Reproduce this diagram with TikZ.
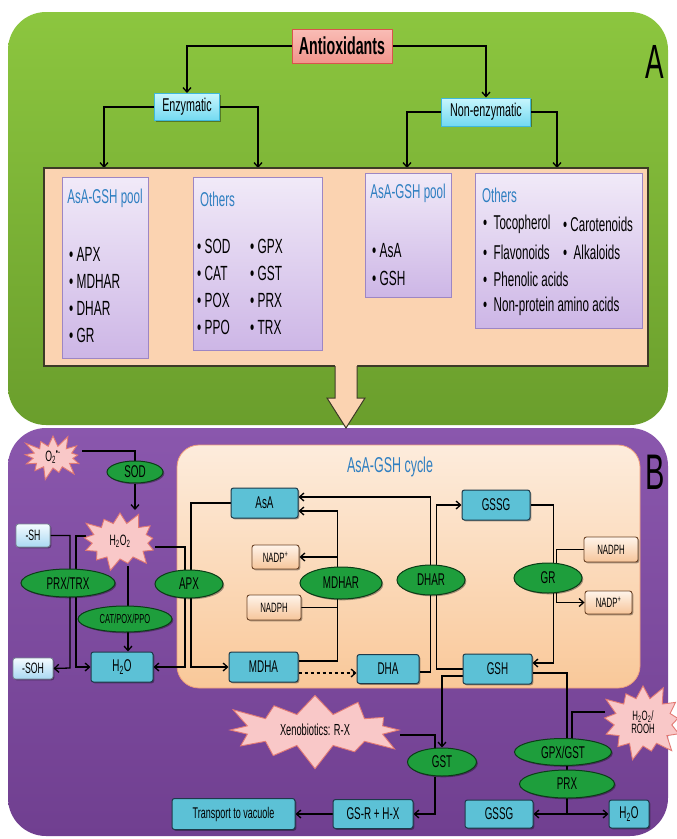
\documentclass[tikz,border=0pt]{standalone}
\usepackage{fontspec}
\setmainfont{Liberation Sans}[FakeStretch=0.58]
\usetikzlibrary{shapes.geometric,shapes.symbols,arrows.meta,shadows,calc}
\pgfdeclarelayer{back}\pgfdeclarelayer{bg}
\pgfsetlayers{back,bg,main}
\definecolor{gA1}{HTML}{8CC63F}\definecolor{gA2}{HTML}{6A9E2C}
\definecolor{pB1}{HTML}{8A57AD}\definecolor{pB2}{HTML}{703F90}
\definecolor{peach}{HTML}{FBD3B1}\definecolor{peachD}{HTML}{3C3A26}
\definecolor{lavT}{HTML}{F1EAF8}\definecolor{lavB}{HTML}{CDB6E6}\definecolor{lavD}{HTML}{9D86C4}
\definecolor{blueT}{HTML}{2F7FC1}
\definecolor{tealF}{HTML}{5CC1D6}\definecolor{tealD}{HTML}{1D3A4A}
\definecolor{enzF}{HTML}{1E9E3C}\definecolor{enzD}{HTML}{0B3D17}
\definecolor{starF}{HTML}{F9C8C8}\definecolor{starD}{HTML}{E27A74}
\definecolor{nadT}{HTML}{FFF4EA}\definecolor{nadB}{HTML}{F6C59A}\definecolor{nadD}{HTML}{6B4326}
\definecolor{antiT}{HTML}{F9BDB6}\definecolor{antiB}{HTML}{F2958C}\definecolor{antiD}{HTML}{D9544C}
\definecolor{cT}{HTML}{C8F6FD}\definecolor{cB}{HTML}{72D9F1}\definecolor{cD}{HTML}{3FB8DA}
\definecolor{cycT}{HTML}{FDECDC}\definecolor{cycB}{HTML}{F9C899}\definecolor{cycD}{HTML}{EE9E7C}
\definecolor{shT}{HTML}{F4FBFF}\definecolor{shB}{HTML}{A9D8F2}
\tikzset{
  fs/.style={font=\fontsize{#1pt}{#1pt}\selectfont},
  shd/.style={drop shadow={shadow xshift=1.3pt,shadow yshift=-1.3pt,fill=black,opacity=0.35}},
  arr/.style={-{Straight Barb[length=4.5pt,width=8pt]}},
  conn/.style={line width=1.3pt,black},
  abox/.style={rectangle,top color=antiT,bottom color=antiB,draw=antiD,line width=1pt,inner sep=0pt,shd},
  cbox/.style={rectangle,top color=cT,bottom color=cB,draw=cD,line width=1pt,inner sep=0pt,shd,fs=18.5},
  lav/.style={rectangle,top color=lavT,bottom color=lavB,draw=lavD,line width=1pt,inner sep=0pt,shd},
  ltitle/.style={text=blueT,fs=20,inner sep=0pt},
  item/.style={anchor=west,fs=20.5,inner sep=0pt},
  tbox/.style={rectangle,rounded corners=2.5pt,fill=tealF,draw=tealD,line width=1pt,inner sep=0pt,shd,fs=17},
  nbox/.style={rectangle,rounded corners=2.5pt,top color=nadT,bottom color=nadB,draw=nadD,line width=0.9pt,inner sep=0pt,shd,fs=13.5},
  sbox/.style={rectangle,rounded corners=2.5pt,top color=shT,bottom color=shB,draw=tealD!60,line width=0.8pt,inner sep=0pt,shd,fs=15},
  enz/.style={ellipse,fill=enzF,draw=enzD,line width=1pt,inner sep=0pt,shd,fs=17},
  starb/.style={shape=starburst,starburst points=13,starburst point height=14pt,fill=starF,draw=starD,line width=0.9pt,inner sep=0pt,align=center,fs=15}
}
\begin{document}
\begin{tikzpicture}[x=1pt,y=-1pt]
\useasboundingbox (0,0) rectangle (677,839);
\begin{pgfonlayer}{back}
\fill[white] (0,0) rectangle (677,839);
\shade[top color=gA1,bottom color=gA2,rounded corners=38pt] (8,12) rectangle (668,425);
\shade[top color=pB1,bottom color=pB2,rounded corners=38pt] (8,428) rectangle (668,836);
\node[rectangle,rounded corners=22pt,top color=cycT,bottom color=cycB,draw=cycD,line width=0.8pt,minimum width=463pt,minimum height=243pt] (cyc) at (408.5,566.5) {};
\end{pgfonlayer}
% ---------------- Panel A ----------------
\node[fs=48,inner sep=0pt] (lblA) at (655,62) {A};
\node[abox,minimum width=100pt,minimum height=34pt,font=\fontsize{24.5pt}{24.5pt}\selectfont\bfseries] (anti) at (342,46) {Antioxidants};
\node[cbox,minimum width=65pt,minimum height=27pt] (enzb) at (187,107) {Enzymatic};
\node[cbox,minimum width=89pt,minimum height=28pt] (nenz) at (486,112) {Non-enzymatic};
\node[rectangle,fill=peach,draw=peachD,line width=1.2pt,minimum width=604pt,minimum height=198pt] (pool) at (346,267) {};
\fill[peach] (335,364) -- (357,364) -- (357,398) -- (365,398) -- (346,428) -- (327,398) -- (335,398) -- cycle;
\draw[peachD,line width=1pt] (335,366) -- (335,398) -- (327,398) -- (346,428) -- (365,398) -- (357,398) -- (357,366);
\node[lav,minimum width=86pt,minimum height=181pt] (l1) at (105,267.5) {};
\node[lav,minimum width=129pt,minimum height=173pt] (l2) at (257.5,263.5) {};
\node[lav,minimum width=86pt,minimum height=124pt] (l3) at (408,235) {};
\node[lav,minimum width=167pt,minimum height=155pt] (l4) at (558.5,250.5) {};
\node[ltitle] (l1t) at (105,198) {AsA-GSH pool};
\node[item] (l1a) at (69,254) {• APX};
\node[item] (l1b) at (69,281) {• MDHAR};
\node[item] (l1c) at (69,308) {• DHAR};
\node[item] (l1d) at (69,335) {• GR};
\node[ltitle,anchor=west] (l2t) at (200,199) {Others};
\node[item] (l2a) at (197,246) {• SOD};
\node[item] (l2b) at (197,273) {• CAT};
\node[item] (l2c) at (197,300) {• POX};
\node[item] (l2d) at (197,327) {• PPO};
\node[item] (l2e) at (250,246) {• GPX};
\node[item] (l2f) at (250,273) {• GST};
\node[item] (l2g) at (250,300) {• PRX};
\node[item] (l2h) at (250,327) {• TRX};
\node[ltitle] (l3t) at (408,193) {AsA-GSH pool};
\node[item] (l3a) at (372,251) {• AsA};
\node[item] (l3b) at (372,278) {• GSH};
\node[ltitle,anchor=west] (l4t) at (482,195) {Others};
\node[item,fs=20] (l4a) at (483,224) {•\ \ Tocopherol};
\node[item,fs=20] (l4b) at (483,252) {•\ \ Flavonoids};
\node[item,fs=20] (l4c) at (483,279) {•\ \ Phenolic acids};
\node[item,fs=20] (l4d) at (483,306) {•\ \ Non-protein amino acids};
\node[item,fs=20] (l4e) at (563,224) {•\ Carotenoids};
\node[item,fs=20] (l4f) at (563,252) {•\ \ Alkaloids};
\coordinate (pa1) at (104,168);
\coordinate (pa2) at (258,168);
\coordinate (pa3) at (407,168);
\coordinate (pa4) at (557,168);
\begin{pgfonlayer}{bg}
\draw[conn,arr] (anti.west) -| (enzb.north);
\draw[conn,arr] (anti.east) -| (nenz.north);
\draw[conn,arr] (enzb.west) -| (pa1);
\draw[conn,arr] (enzb.east) -| (pa2);
\draw[conn,arr] (nenz.west) -| (pa3);
\draw[conn,arr] (nenz.east) -| (pa4);
\end{pgfonlayer}
% ---------------- Panel B ----------------
\node[fs=50,inner sep=0pt] (lblB) at (655,472) {B};
\node[text=blueT,fs=21.5,inner sep=0pt] (cyct) at (390,467) {AsA-GSH cycle};
\node[tbox,minimum width=67pt,minimum height=30pt] (asa) at (264.5,503) {AsA};
\node[tbox,minimum width=69pt,minimum height=30pt] (mdha) at (263.5,667) {MDHA};
\node[tbox,minimum width=62pt,minimum height=29pt] (dha) at (388,669) {DHA};
\node[tbox,minimum width=69pt,minimum height=30pt] (gsh) at (497.5,669) {GSH};
\node[tbox,minimum width=68pt,minimum height=30pt] (gssg) at (496,505) {GSSG};
\node[tbox,minimum width=62pt,minimum height=30pt] (h2o) at (122,667) {H\textsubscript{2}O};
\node[sbox,minimum width=34pt,minimum height=23pt] (sh) at (33,535.5) {-SH};
\node[sbox,minimum width=40pt,minimum height=21pt] (soh) at (33,668.5) {-SOH};
\node[tbox,minimum width=123pt,minimum height=31pt,fs=15.5] (trans) at (233.5,814) {Transport to vacuole};
\node[tbox,minimum width=80pt,minimum height=29pt] (gsr) at (373,814) {GS-R + H-X};
\node[tbox,minimum width=68pt,minimum height=28pt] (gssgb) at (499,814) {GSSG};
\node[tbox,minimum width=40pt,minimum height=28pt] (h2ob) at (629,814) {H\textsubscript{2}O};
\node[nbox,minimum width=47pt,minimum height=24pt] (nadpa) at (275.5,557) {NADP\textsuperscript{+}};
\node[nbox,minimum width=54pt,minimum height=25pt] (nadpha) at (274,607.5) {NADPH};
\node[nbox,minimum width=54pt,minimum height=25pt] (nadphb) at (611,549.5) {NADPH};
\node[nbox,minimum width=47pt,minimum height=23pt] (nadpb) at (608.5,602.5) {NADP\textsuperscript{+}};
\node[enz,minimum width=56pt,minimum height=22pt] (sod) at (135,472) {SOD};
\node[enz,minimum width=94pt,minimum height=28pt] (prx1) at (68,583) {PRX/TRX};
\node[enz,minimum width=94pt,minimum height=26pt,fs=13] (cat) at (125,619) {CAT/POX/PPO};
\node[enz,minimum width=68pt,minimum height=28pt] (apx) at (189,584) {APX};
\node[enz,minimum width=82pt,minimum height=32pt] (mdhar) at (341,583) {MDHAR};
\node[enz,minimum width=68pt,minimum height=30pt] (dhar) at (431,580) {DHAR};
\node[enz,minimum width=68pt,minimum height=30pt] (gr) at (548,578) {GR};
\node[enz,minimum width=69pt,minimum height=28pt] (gst) at (442,762) {GST};
\node[enz,minimum width=97pt,minimum height=27pt] (gpx) at (563,752) {GPX/GST};
\node[enz,minimum width=95pt,minimum height=28pt] (prx2) at (567,784) {PRX};
\node[starb,minimum width=68pt,minimum height=50pt] (o2) at (53,457) {O\textsubscript{2}\textsuperscript{•-}};
\node[starb,minimum width=84pt,minimum height=64pt] (h2o2) at (120,541) {H\textsubscript{2}O\textsubscript{2}};
\node[starb,starburst points=12,starburst point height=26pt,minimum width=192pt,minimum height=84pt,fs=16] (xeno) at (315,730) {Xenobiotics: R-X};
\node[starb,starburst point height=17pt,minimum width=92pt,minimum height=82pt,fs=13.5] (rooh) at (643,722) {H\textsubscript{2}O\textsubscript{2}/\\ROOH};
\coordinate (o2e) at (82,451);
\coordinate (h2top) at (135,510);
\coordinate (k1) at (70,668);
\coordinate (h2w) at (86,536);
\coordinate (k2) at (76,667);
\coordinate (h2s) at (128,566);
\coordinate (h2e) at (155,547);
\coordinate (k3) at (185,667);
\coordinate (k4) at (191,667);
\coordinate (m1) at (337,557);
\coordinate (m2) at (337,607.5);
\coordinate (xe) at (400,735);
\coordinate (jn) at (567,814);
\coordinate (re) at (605,712);
\coordinate (re2) at (572,745);
\begin{pgfonlayer}{bg}
\draw[conn] (o2e) -| (sod.north);
\draw[conn,arr] (sod.south) -- (h2top);
\draw[conn,arr] (sh.east) -| (k1) -- (soh.east);
\draw[conn,arr] (h2w) -| (k2) -- (h2o.west);
\draw[conn,arr] (h2s) -- (h2s |- h2o.north);
\draw[conn,arr] (h2e) -| (k3) -- (h2o.east);
\draw[conn,arr] (asa.west) -| (k4) -- (mdha.west);
\draw[conn,arr] ([yshift=6pt]mdha.east) -- ++(39,0) |- ([yshift=-8pt]asa.east);
\draw[conn,arr] (m1) -- (nadpa.east);
\draw[conn] (nadpha.east) -- (m2);
\draw[conn,arr,dashed] ([yshift=-6pt]mdha.east) -- ([yshift=-4pt]dha.west);
\draw[conn,arr] ([yshift=-3pt]dha.east) -- ++(11,0) |- ([yshift=6pt]asa.east);
\draw[conn,arr] (gsh.west) -- ++(-26,0) |- (gssg.west);
\draw[conn,arr] (gssg.east) -- ++(23,0) |- ([yshift=6pt]gsh.east);
\draw[conn,arr] (nadphb.west) -- ++(-27,0) |- (nadpb.west);
\draw[conn,arr] ([yshift=-7pt]gsh.west) -| (gst.north);
\draw[conn] (xe) -| ([xshift=-7pt]gst.north);
\draw[conn,arr] ([xshift=-7pt]gst.south) |- (gsr.east);
\draw[conn,arr] (gsr.west) -- (trans.east);
\draw[conn] ([yshift=-4pt]gsh.east) -| (jn);
\draw[conn,arr] (jn) -- (gssgb.east);
\draw[conn,arr] (jn) -- (h2ob.west);
\draw[conn] (re) -| (re2);
\end{pgfonlayer}
\end{tikzpicture}
\end{document}
